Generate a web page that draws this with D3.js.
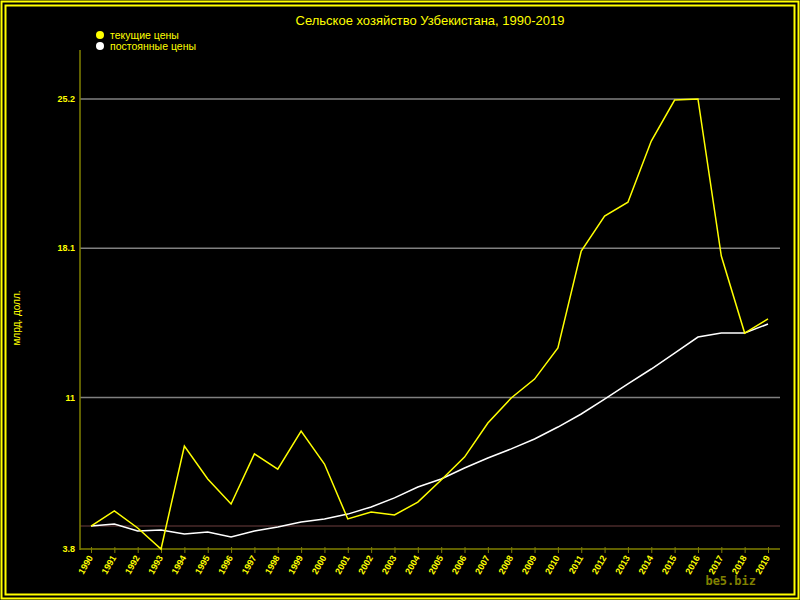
<!DOCTYPE html><html><head><meta charset="utf-8"><script src="https://cdn.jsdelivr.net/npm/d3@7"></script>
<style>body{margin:0;background:#000}</style></head><body><svg id="c" width="800" height="600"></svg>
<script>
const years=d3.range(1990,2020);
const current=[4.89,5.61,4.80,3.8,8.70,7.13,5.94,8.32,7.60,9.41,7.84,5.23,5.56,5.42,6.03,7.08,8.17,9.79,10.98,11.88,13.36,17.97,19.63,20.29,23.2,25.15,25.2,17.73,14.07,14.74];
const constant=[4.89,4.99,4.66,4.70,4.51,4.61,4.37,4.66,4.85,5.08,5.23,5.46,5.80,6.23,6.75,7.13,7.65,8.13,8.56,9.03,9.60,10.22,10.93,11.65,12.36,13.12,13.88,14.07,14.07,14.50];
const yTicks=[3.8,11,18.1,25.2];
const baseValue=4.89;
const svg=d3.select("#c");
svg.append("rect").attr("x",1.5).attr("y",1.5).attr("width",797).attr("height",597).attr("fill","none").attr("stroke","#ff0").attr("stroke-width",2);
svg.append("rect").attr("x",5.5).attr("y",5.5).attr("width",789).attr("height",589).attr("fill","none").attr("stroke","#ff0").attr("stroke-width",2);
const x=d3.scaleLinear().domain([1990,2019]).range([91,768]);
const y=d3.scaleLinear().domain([3.8,25.2]).range([549,99]);
svg.append("text").attr("x",430).attr("y",25).attr("text-anchor","middle").attr("fill","#ff0").style("font","13px Arial, 'Liberation Sans'").text("Сельское хозяйство Узбекистана, 1990-2019");
[["текущие цены","#ff0",36],["постоянные цены","#fff",47]].forEach(([t,c,yy])=>{
 svg.append("circle").attr("cx",100).attr("cy",yy-1).attr("r",4).attr("fill",c);
 svg.append("text").attr("x",110).attr("y",yy+3).attr("fill","#ff0").style("font","10.5px Arial, 'Liberation Sans'").text(t);
});
yTicks.slice(1).forEach(v=>svg.append("line").attr("x1",80).attr("x2",780).attr("y1",y(v)).attr("y2",y(v)).attr("stroke","#808080").attr("stroke-width",1.5));
svg.append("line").attr("x1",80).attr("x2",780).attr("y1",y(baseValue)).attr("y2",y(baseValue)).attr("stroke","#4a2a2a").attr("stroke-width",1.5);
yTicks.forEach(v=>svg.append("text").attr("x",75).attr("y",y(v)+3).attr("text-anchor","end").attr("fill","#ff0").style("font","bold 9px Arial, 'Liberation Sans'").text(v));
svg.append("line").attr("x1",80).attr("x2",80).attr("y1",50).attr("y2",550).attr("stroke","#808000").attr("stroke-width",1.5);
const xa=svg.append("g").attr("transform","translate(0,549)").call(d3.axisBottom(x).tickValues(years).tickFormat(d3.format("d")).tickSize(4).tickSizeOuter(0));
xa.select(".domain").remove();
svg.append("line").attr("x1",80).attr("x2",780).attr("y1",549).attr("y2",549).attr("stroke","#808000").attr("stroke-width",1.5);
xa.selectAll("line").attr("stroke","#808000").attr("y1",-2);
xa.selectAll("text").attr("fill","#ff0").style("font","bold 9px Arial, 'Liberation Sans'").attr("text-anchor","end").attr("transform","translate(-1,7) rotate(-60)").attr("dy","0.35em").attr("y",0).attr("x",0);
svg.append("text").attr("transform","translate(20,318) rotate(-90)").attr("text-anchor","middle").attr("fill","#ff0").style("font","10px Arial, 'Liberation Sans'").text("млрд. долл.");
const line=d3.line().x((d,i)=>x(years[i])).y(d=>y(d));
svg.append("path").datum(constant).attr("d",line).attr("fill","none").attr("stroke","#fff").attr("stroke-width",1.5);
svg.append("path").datum(current).attr("d",line).attr("fill","none").attr("stroke","#ff0").attr("stroke-width",1.5);
svg.append("text").attr("x",756).attr("y",585).attr("text-anchor","end").attr("fill","#808000").style("font","bold 12px 'DejaVu Sans Mono', monospace").text("be5.biz");
</script></body></html>
